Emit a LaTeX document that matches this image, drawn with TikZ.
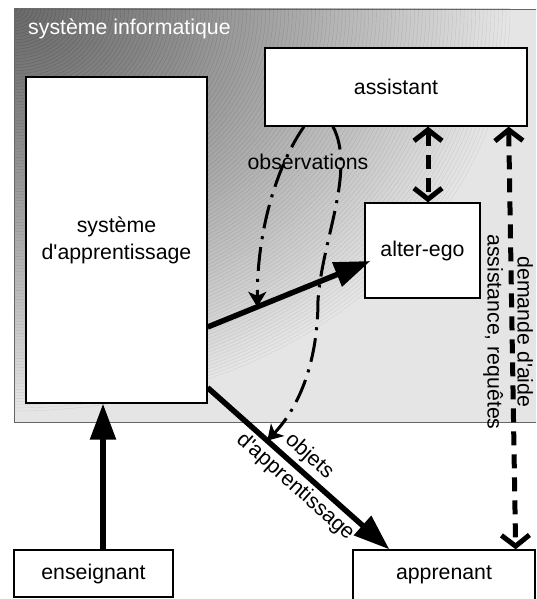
\documentclass[tikz,border=0pt]{standalone}
\usepackage{fontspec}
\setmainfont{Liberation Sans}[Ligatures=TeXOff]
\usetikzlibrary{arrows.meta}
\begin{document}
\begin{tikzpicture}[x=1pt,y=-1pt,font=\fontsize{21.3}{27}\selectfont,
  box/.style={draw,line width=1.3pt,fill=white,inner sep=0pt},
  fat/.style={line width=5.5pt,-{Triangle[length=36pt,width=25pt]}},
  obs/.style={line width=3pt,dash pattern=on 24pt off 8pt on 3pt off 8pt,-{Stealth[length=15pt,width=18pt,inset=4pt]}},
  req/.style={line width=5pt,dash pattern=on 14pt off 9pt,{Straight Barb[length=11pt,width=28pt]}-{Straight Barb[length=11pt,width=28pt]}}]
  \useasboundingbox (0,0) rectangle (536,599);
  \clip (0,0) rectangle (536,599);
  \begin{scope}
    \clip (14,9) rectangle (545,422);
    \fill[black!10] (14,9) rectangle (545,422);
    \foreach \k in {130,...,1}{
      \pgfmathsetmacro{\p}{58-48*(\k/130)^1.2}
      \pgfmathsetmacro{\q}{\p+8}
      \filldraw[fill=black!\p,draw=black!\q,line width=0.35pt] (14,9) ellipse ({496/130*\k} and {402/130*\k});
    }
  \end{scope}
  \node[draw=black!60,line width=1pt,minimum width=531,minimum height=413,inner sep=0pt,anchor=north west] (sysinfo) at (14,9) {};
  \node[text=white,inner sep=0pt,anchor=base west] (systitle) at (28,35) {système informatique};

  \node[box,minimum width=181,minimum height=326,align=center] (apprent) at (116.5,240) {système\\d'apprentissage};
  \node[box,minimum width=262,minimum height=78] (assist) at (396,87) {assistant};
  \node[box,minimum width=115,minimum height=95] (alterego) at (422.5,250.5) {alter-ego};
  \node[box,minimum width=159,minimum height=47] (enseign) at (93.5,573.5) {enseignant};
  \node[box,minimum width=182,minimum height=50] (apprenant) at (444,575) {apprenant};

  \coordinate (ensT) at ([xshift=9.5pt]enseign.north);
  \draw[fat] (ensT) -- (ensT |- apprent.south);
  \draw[fat] ([yshift=-87pt]apprent.east) -- coordinate[pos=0.305] (obsA) ([xshift=6pt,yshift=-10.5pt]alterego.west);
  \draw[fat] ([yshift=16pt]apprent.south east) -- coordinate[pos=0.328] (obsB)
    node[sloped,above,pos=0.5] {objets} node[sloped,below,pos=0.54] {d'apprentissage} ([xshift=37pt]apprenant.north west);

  \draw[obs] ([xshift=-92pt]assist.south) .. controls +(-24,34) and +(0,-83) .. (obsA);
  \draw[obs] ([xshift=-63pt]assist.south) .. controls +(23,44) and +(4,-60) .. (318,300) .. controls +(0,60) and +(33,-35) .. (obsB);
  \node (obslab) at (308,162) {observations};

  \draw[req] ([xshift=32pt]assist.south) -- ([xshift=5.5pt]alterego.north);
  \draw[req] ([xshift=-19pt]assist.south east) -- ([xshift=-20pt]apprenant.north east);
  \node[rotate=-90,align=center,font=\fontsize{21.3}{30}\selectfont] (reqlab) at (508,332) {demande d'aide\\assistance, requêtes};
\end{tikzpicture}
\end{document}
